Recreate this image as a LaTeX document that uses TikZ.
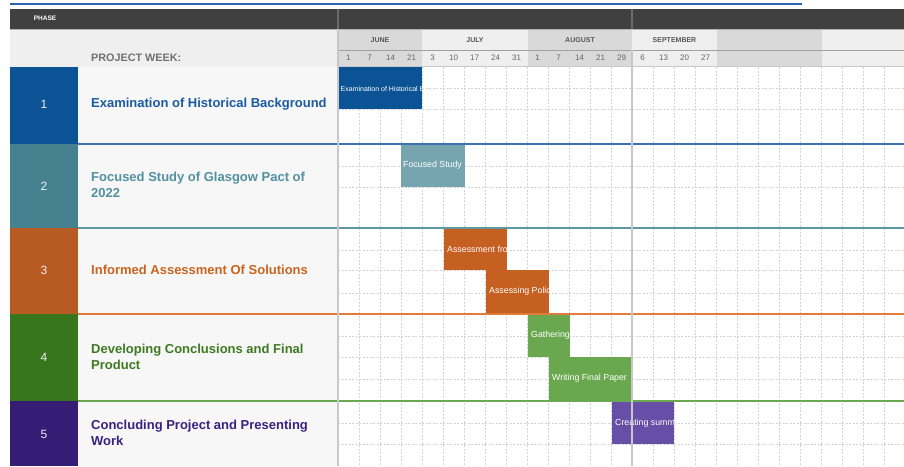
\documentclass[tikz,border=0pt]{standalone}
\usepackage{fontspec}
\setmainfont{Liberation Sans}
\definecolor{hdrdark}{HTML}{404040}
\definecolor{hdrline}{HTML}{6A6A6A}
\definecolor{lightA}{HTML}{EFEFEF}
\definecolor{lightB}{HTML}{D9D9D9}
\definecolor{panel}{HTML}{F7F7F7}
\definecolor{gridc}{HTML}{D3D3D3}
\definecolor{sepgray}{HTML}{C8C8C8}
\definecolor{txtgray}{HTML}{707070}
\definecolor{mongray}{HTML}{555555}
\definecolor{topblue}{HTML}{2F65AD}
\definecolor{pA}{HTML}{0B5394}
\definecolor{pAt}{HTML}{1A5AA3}
\definecolor{pAl}{HTML}{3D72B4}
\definecolor{pB}{HTML}{45818E}
\definecolor{pBt}{HTML}{5390A0}
\definecolor{pBl}{HTML}{5F97A3}
\definecolor{pBbar}{HTML}{76A5AF}
\definecolor{pC}{HTML}{B85B22}
\definecolor{pCt}{HTML}{C9641F}
\definecolor{pCl}{HTML}{E07B39}
\definecolor{pCbar}{HTML}{C65F22}
\definecolor{pD}{HTML}{38761D}
\definecolor{pDt}{HTML}{3E7A22}
\definecolor{pDl}{HTML}{6AA84F}
\definecolor{pDbar}{HTML}{6AA84F}
\definecolor{pE}{HTML}{351C75}
\definecolor{pEt}{HTML}{3A2180}
\definecolor{pEbar}{HTML}{674EA7}
\tikzset{
  griddash/.style={gridc, line width=0.6pt, dash pattern=on 2pt off 1.5pt},
  gantbar/.style={draw=none, inner sep=0pt, anchor=north west},
  bartext/.style={anchor=west, inner sep=0pt, text=white, font=\fontsize{8.8}{10}\selectfont},
  phasenum/.style={text=white!88!gray, font=\fontsize{12}{14}\selectfont},
  phasetitle/.style={anchor=west, inner sep=0pt, align=left, font=\bfseries\fontsize{13}{16}\selectfont},
  monthlbl/.style={text=mongray, font=\bfseries\fontsize{7}{8}\selectfont},
  weeklbl/.style={text=txtgray!90!black, font=\fontsize{8}{9}\selectfont},
  phaseblock/.style={draw=none, inner sep=0pt, anchor=north west, minimum width=68pt}
}
\begin{document}
\begin{tikzpicture}[x=1pt,y=-1pt]
\useasboundingbox (0,0) rectangle (904,466);
\fill[white] (0,0) rectangle (904,466);
% top line
\draw[topblue, line width=2pt] (10,4) -- (802,4);
% dark header
\fill[hdrdark] (10,9) rectangle (904,29);
\node[text=white, font=\bfseries\fontsize{6.5}{8}\selectfont] (phase) at (45,18) {PHASE};
\draw[hdrline, line width=1.5pt] (338,9) -- (338,29);
\draw[hdrline, line width=1.5pt] (632,9) -- (632,29);
% light header left
\fill[lightA] (10,29) rectangle (338,67);
\node[anchor=west, inner sep=0pt, text=txtgray, font=\bfseries\fontsize{10.8}{12}\selectfont] (pw) at (91,58) {PROJECT WEEK:};
% month / week shading
\fill[lightB] (338,29) rectangle (422,66);
\fill[lightA] (422,29) rectangle (528,66);
\fill[lightB] (528,29) rectangle (632,66);
\fill[lightA] (632,29) rectangle (717,66);
\fill[lightB] (717,29) rectangle (822,66);
\fill[lightA] (822,29) rectangle (904,66);
\draw[sepgray!80!black, line width=0.8pt] (338,50) -- (904,50);
\draw[sepgray, line width=0.8pt] (338,66) -- (904,66);
\draw[gray!60, line width=0.6pt] (10,29) -- (904,29);
\node[monthlbl] (mjun) at (380,40) {JUNE};
\node[monthlbl] (mjul) at (475,40) {JULY};
\node[monthlbl] (maug) at (580,40) {AUGUST};
\node[monthlbl] (msep) at (674.5,40) {SEPTEMBER};
\foreach \w [count=\i from 0] in {1,7,14,21,3,10,17,24,31,1,7,14,21,29,6,13,20,27}
  \node[weeklbl] (wk\i) at ({348.5+21*\i},58) {\w};
% left panel
\fill[panel] (78,67) rectangle (338,466);
% grid
\fill[white] (338,67) rectangle (904,466);
\foreach \x in {359,380,...,884}
  \draw[griddash] (\x,67) -- (\x,466);
\foreach \y in {88,109,166,187,250,270,293,336,357,379,423,444}
  \draw[griddash] (338,\y) -- (904,\y);
% phase blocks
\node[phaseblock, fill=pA, minimum height=77pt] (blk1) at (10,67) {};
\node[phaseblock, fill=pB, minimum height=84pt] (blk2) at (10,144) {};
\node[phaseblock, fill=pC, minimum height=86pt] (blk3) at (10,228) {};
\node[phaseblock, fill=pD, minimum height=87pt] (blk4) at (10,314) {};
\node[phaseblock, fill=pE, minimum height=65pt] (blk5) at (10,401) {};
\node[phasenum] (n1) at (44,104) {1};
\node[phasenum] (n2) at (44,186) {2};
\node[phasenum] (n3) at (44,270) {3};
\node[phasenum] (n4) at (44,357) {4};
\node[phasenum] (n5) at (44,434) {5};
\node[phasetitle, text=pAt] (t1) at (91,104) {Examination of Historical Background};
\node[phasetitle, text=pBt] (t2) at (91,185) {Focused Study of Glasgow Pact of\\2022};
\node[phasetitle, text=pCt] (t3) at (91,270) {Informed Assessment Of Solutions};
\node[phasetitle, text=pDt] (t4) at (91,357) {Developing Conclusions and Final\\Product};
\node[phasetitle, text=pEt] (t5) at (91,433) {Concluding Project and Presenting\\Work};
% bars
\node[gantbar, fill=pA, minimum width=83pt, minimum height=42pt] (b1) at (339,67) {};
\node[gantbar, fill=pBbar, minimum width=64pt, minimum height=43pt] (b2) at (401,144) {};
\node[gantbar, fill=pCbar, minimum width=63pt, minimum height=42pt] (b3) at (444,228) {};
\node[gantbar, fill=pCbar, minimum width=63pt, minimum height=43pt] (b4) at (486,270) {};
\node[gantbar, fill=pDbar, minimum width=42pt, minimum height=42pt] (b5) at (528,315) {};
\node[gantbar, fill=pDbar, minimum width=83pt, minimum height=43pt] (b6) at (549,357) {};
\node[gantbar, fill=pEbar, minimum width=62pt, minimum height=42pt] (b7) at (612,402) {};
\begin{scope}
\clip (b1.south west) rectangle (b1.north east);
\node[bartext, font=\fontsize{7}{8}\selectfont] (l1) at ([xshift=1.5pt,yshift=-1pt]b1.west) {Examination of Historical Background};
\end{scope}
\begin{scope}
\clip (b2.south west) rectangle (b2.north east);
\node[bartext] (l2) at ([xshift=2pt]b2.west) {Focused Study};
\end{scope}
\begin{scope}
\clip (b3.south west) rectangle (b3.north east);
\node[bartext] (l3) at ([xshift=3pt]b3.west) {Assessment from};
\end{scope}
\begin{scope}
\clip (b4.south west) rectangle (b4.north east);
\node[bartext] (l4) at ([xshift=3pt]b4.west) {Assessing Policies};
\end{scope}
\begin{scope}
\clip (b5.south west) rectangle (b5.north east);
\node[bartext] (l5) at ([xshift=3pt,yshift=1pt]b5.west) {Gathering Data};
\end{scope}
\begin{scope}
\clip (b6.south west) rectangle (b6.north east);
\node[bartext] (l6) at ([xshift=3pt]b6.west) {Writing Final Paper};
\end{scope}
\begin{scope}
\clip (b7.south west) rectangle (b7.north east);
\node[bartext] (l7) at ([xshift=3pt]b7.west) {Creating summary};
\end{scope}
% phase separators
\draw[pAl, line width=1.5pt] (78,144) -- (904,144);
\draw[pBl, line width=1.5pt] (78,228) -- (904,228);
\draw[pCl, line width=1.5pt] (78,314) -- (904,314);
\draw[pDl, line width=1.5pt] (78,401) -- (904,401);
% main vertical separators
\draw[sepgray, line width=2pt] (338,29) -- (338,466);
\draw[sepgray, line width=1.5pt] (632,50) -- (632,466);
\end{tikzpicture}
\end{document}
